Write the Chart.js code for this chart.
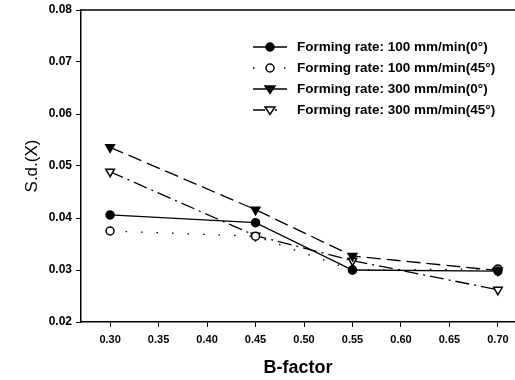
<!doctype html>
<html>
<head>
	<title>S.d.(X) vs B-factor</title>
	<script src="https://cdn.jsdelivr.net/npm/chart.js@4"></script>
	<style>
	html, body { margin: 0; padding: 0; background: #fff; overflow: hidden; }
	canvas { display: block; }
	</style>
</head>
<body>
	<canvas id="chart" width="515" height="380"></canvas>
	<script>
		var bFactor = [0.30, 0.45, 0.55, 0.70];
		var rate100deg0 = [0.0406, 0.0391, 0.0300, 0.0298];
		var rate100deg45 = [0.0375, 0.0365, 0.0300, 0.0302];
		var rate300deg0 = [0.0536, 0.0416, 0.0327, 0.0299];
		var rate300deg45 = [0.0489, 0.0366, 0.0318, 0.0262];
		var seriesLabels = [
			'Forming rate: 100 mm/min(0°)',
			'Forming rate: 100 mm/min(45°)',
			'Forming rate: 300 mm/min(0°)',
			'Forming rate: 300 mm/min(45°)'
		];
		var xTicks = [0.30, 0.35, 0.40, 0.45, 0.50, 0.55, 0.60, 0.65, 0.70];
		var yTicks = [0.02, 0.03, 0.04, 0.05, 0.06, 0.07, 0.08];

		var FONT = "'Liberation Sans', Arial, sans-serif";

		function points(ys) {
			return bFactor.map(function(x, i) { return {x: x, y: ys[i]}; });
		}

		function makeSet(label, ys, style, dash, legendDash) {
			return {
				label: label,
				data: points(ys),
				borderColor: '#000',
				borderWidth: 1.3,
				borderDash: dash,
				legendDash: legendDash,
				pointStyle: style.shape,
				rotation: style.rotation,
				pointRadius: style.radius,
				pointBorderWidth: 1.5,
				pointBorderColor: '#000',
				pointBackgroundColor: style.filled ? '#000' : '#fff',
				tension: 0
			};
		}

		var datasets = [
			makeSet(seriesLabels[0], rate100deg0, {shape: 'circle', rotation: 0, radius: 4, filled: true}, [], []),
			makeSet(seriesLabels[1], rate100deg45, {shape: 'circle', rotation: 0, radius: 4, filled: false}, [1.5, 14], [1.5, 14]),
			makeSet(seriesLabels[2], rate300deg0, {shape: 'triangle', rotation: 180, radius: 5, filled: true}, [14, 6], []),
			makeSet(seriesLabels[3], rate300deg45, {shape: 'triangle', rotation: 180, radius: 5, filled: false}, [14, 5, 2, 5], [12, 10, 2, 40])
		];

		// legend drawn as line + marker + text, like the original figure
		var legendPlugin = {
			id: 'lineLegend',
			afterDraw: function(chart) {
				var ctx = chart.ctx;
				var x0 = 253, x1 = 287, tx = 297, y = 47, step = 21;
				chart.data.datasets.forEach(function(ds, i) {
					var yy = y + i * step;
					var cx = (x0 + x1) / 2;
					ctx.save();
					ctx.strokeStyle = '#000';
					ctx.lineWidth = ds.borderWidth;
					ctx.setLineDash(ds.legendDash);
					ctx.beginPath();
					ctx.moveTo(x0, yy);
					ctx.lineTo(x1, yy);
					ctx.stroke();
					ctx.setLineDash([]);
					ctx.fillStyle = ds.pointBackgroundColor;
					ctx.lineWidth = 1.5;
					ctx.beginPath();
					if (ds.pointStyle === 'circle') {
						ctx.arc(cx, yy, ds.pointRadius, 0, Math.PI * 2);
					} else {
						var r = ds.pointRadius;
						ctx.moveTo(cx - r, yy - r * 0.6);
						ctx.lineTo(cx + r, yy - r * 0.6);
						ctx.lineTo(cx, yy + r * 0.9);
						ctx.closePath();
					}
					ctx.fill();
					ctx.stroke();
					ctx.fillStyle = '#000';
					ctx.font = 'bold 13.5px ' + FONT;
					ctx.textBaseline = 'middle';
					ctx.textAlign = 'left';
					ctx.fillText(ds.label, tx, yy);
					ctx.restore();
				});
			}
		};

		var topBorder = {
			id: 'topBorder',
			afterDraw: function(chart) {
				var a = chart.chartArea, ctx = chart.ctx;
				ctx.save();
				ctx.strokeStyle = '#000';
				ctx.lineWidth = 1.5;
				ctx.beginPath();
				ctx.moveTo(a.left, a.top);
				ctx.lineTo(a.right, a.top);
				ctx.stroke();
				ctx.restore();
			}
		};

		window.onload = function() {
			var ctx = document.getElementById('chart').getContext('2d');
			new Chart(ctx, {
				type: 'line',
				data: {datasets: datasets},
				plugins: [legendPlugin, topBorder],
				options: {
					responsive: false,
					animation: false,
					layout: {autoPadding: false, padding: {left: 18, top: 10, right: 0, bottom: 0}},
					plugins: {
						legend: {display: false},
						tooltip: {enabled: false}
					},
					scales: {
						x: {
							type: 'linear',
							min: 0.27,
							max: 0.7176,
							afterBuildTicks: function(scale) {
								scale.ticks = xTicks.map(function(v) { return {value: v}; });
							},
							afterFit: function(scale) {
								scale.height = 58;
								scale.paddingLeft = 0;
								scale.paddingRight = 0;
							},
							grid: {display: true, drawOnChartArea: false, color: '#000', tickLength: 5, lineWidth: 1},
							border: {display: true, color: '#000', width: 1.5},
							ticks: {
								color: '#000',
								maxRotation: 0,
								autoSkip: false,
								padding: 6,
								font: {family: FONT, size: 11, weight: 'bold'},
								callback: function(v) { return v.toFixed(2); }
							},
							title: {
								display: true,
								text: 'B-factor',
								color: '#000',
								padding: {top: 0, bottom: 1},
								font: {family: FONT, size: 18, weight: 'bold'}
							}
						},
						y: {
							min: 0.02,
							max: 0.08,
							afterBuildTicks: function(scale) {
								scale.ticks = yTicks.map(function(v) { return {value: v}; });
							},
							afterFit: function(scale) {
								scale.width = 63;
								scale.paddingTop = 0;
								scale.paddingBottom = 0;
							},
							grid: {display: true, drawOnChartArea: false, color: '#000', tickLength: 5, lineWidth: 1},
							border: {display: true, color: '#000', width: 1.5},
							ticks: {
								color: '#000',
								padding: 4,
								font: {family: FONT, size: 12, weight: 'bold'},
								callback: function(v) { return v.toFixed(2); }
							},
							title: {
								display: true,
								text: 'S.d.(X)',
								color: '#000',
								padding: {bottom: 4},
								font: {family: FONT, size: 17}
							}
						}
					}
				}
			});
		};
	</script>
</body>
</html>
